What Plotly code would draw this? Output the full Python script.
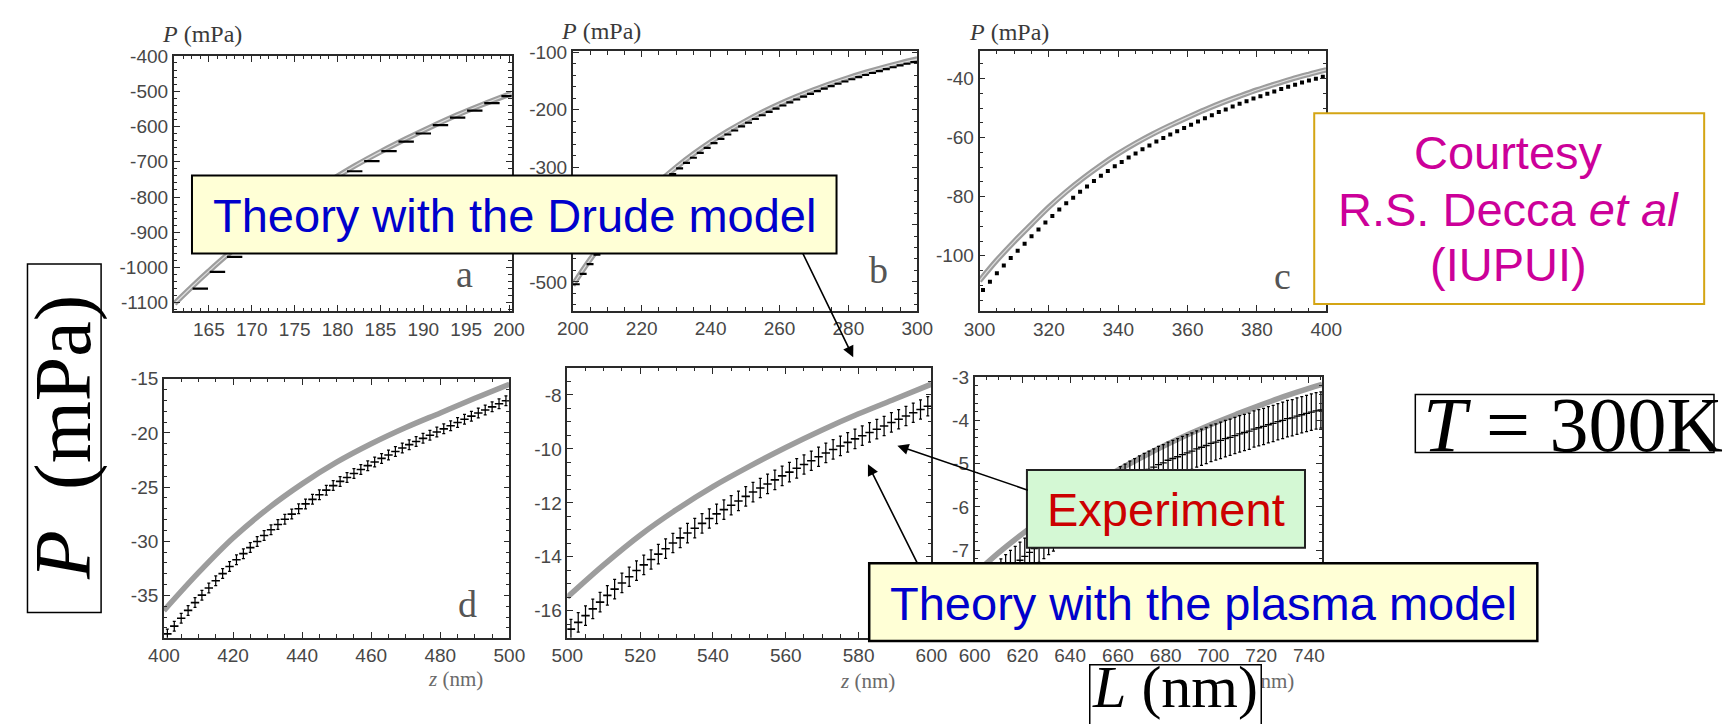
import plotly.graph_objects as go

W, H = 1729, 724

# ---------------- data ----------------
# panel a
theory_a_z = [161, 163, 165, 167, 170, 173, 176, 179, 182, 185, 188, 191, 194, 197, 200.3]
theory_a_p = [-1102, -1055, -1010, -967, -908, -853, -802, -756, -712, -672, -635, -600, -567, -537, -506]
data_a_z = list(range(164, 201, 2))
data_a_p = [-1060, -1012, -970, -932, -893, -856, -822, -789, -757, -727, -698, -670, -643, -620,
            -596, -575, -555, -534, -514]

# panel b
theory_b_z = list(range(200, 301, 5))
theory_b_p = [-505.7, -461.2, -421.5, -386.1, -354.4, -325.9, -300.2, -277.1, -256.2, -237.2, -220.0,
              -204.3, -190.0, -177.0, -165.0, -154.2, -144.1, -134.9, -126.4, -118.6, -111.5]
data_b_z = list(range(201, 300, 2))
data_b_p = [-504, -486, -469, -452.5, -437, -422, -407.5, -393.5, -380.5, -368, -355.5, -344, -333,
            -322, -312, -302, -292.5, -283.5, -275, -266.5, -258, -250.5, -243, -236, -229, -222.5,
            -216, -209.5, -203.5, -198, -192.5, -187, -182, -177, -172.3, -167.5, -163, -158.8,
            -154.6, -150.6, -146.7, -142.9, -139.3, -135.8, -132.4, -129, -125.8, -122.7, -119.7, -116.8]

# panel c
theory_c_z = list(range(300, 401, 5))
theory_c_p = [-108.5, -101.5, -95.2, -89.3, -83.5, -78.3, -73.6, -69.3, -65.4, -61.9, -58.7, -55.8,
              -53.1, -50.5, -48.1, -45.9, -43.8, -41.9, -40.1, -38.5, -37.0]
data_c_z = list(range(301, 400, 2))
data_c_p = [-111.6, -108.8, -105.9, -103.3, -100.8, -98.3, -95.9, -93.4, -91.1, -88.7, -86.5, -84.3,
            -82.2, -80.3, -78.3, -76.5, -74.7, -72.9, -71.3, -69.7, -68.2, -66.7, -65.3, -63.9, -62.6,
            -61.3, -60.1, -58.9, -57.8, -56.7, -55.6, -54.5, -53.4, -52.4, -51.3, -50.4, -49.4, -48.5,
            -47.6, -46.7, -45.9, -45.1, -44.3, -43.5, -42.7, -42.0, -41.3, -40.6, -40.0, -39.3]

# panel d
theory_d_z = list(range(400, 501, 10))
theory_d_p = [-36.4, -32.9, -29.7, -27.0, -24.7, -22.7, -21.0, -19.5, -18.15, -16.8, -15.5]
data_d_z = list(range(401, 500, 2))
data_d_p = [-38.55, -37.83, -37.11, -36.38, -35.66, -34.97, -34.31, -33.64, -32.98, -32.32, -31.71,
            -31.14, -30.58, -30.02, -29.46, -28.93, -28.45, -27.97, -27.49, -27.0, -26.55, -26.13,
            -25.71, -25.28, -24.86, -24.47, -24.11, -23.74, -23.38, -23.02, -22.68, -22.35, -22.03,
            -21.71, -21.39, -21.08, -20.79, -20.5, -20.21, -19.91, -19.62, -19.33, -19.04, -18.73,
            -18.45, -18.16, -17.88, -17.59, -17.31, -17.03]
err_d = 0.45

# panel e
theory_e_z = list(range(500, 601, 10))
theory_e_p = [-15.5, -14.3, -13.2, -12.25, -11.4, -10.65, -9.95, -9.3, -8.7, -8.15, -7.6]
data_e_z = list(range(501, 600, 2))
data_e_p = [-16.68, -16.43, -16.18, -15.93, -15.68, -15.43, -15.2, -14.97, -14.74, -14.51, -14.3,
            -14.1, -13.9, -13.7, -13.49, -13.3, -13.12, -12.94, -12.76, -12.58, -12.41, -12.25,
            -12.09, -11.93, -11.76, -11.6, -11.45, -11.3, -11.15, -11.0, -10.86, -10.72, -10.58,
            -10.44, -10.29, -10.15, -10.02, -9.89, -9.76, -9.63, -9.51, -9.39, -9.27, -9.15, -9.02,
            -8.9, -8.78, -8.66, -8.54, -8.42]
err_e = 0.36

# panel f
theory_f_z = [600, 610, 620, 630, 640, 650, 660, 670, 680, 690, 700, 710, 720, 730, 740, 745.5]
theory_f_p = [-7.55, -7.06, -6.62, -6.21, -5.83, -5.48, -5.15, -4.85, -4.57, -4.31, -4.07, -3.85,
              -3.64, -3.44, -3.26, -3.17]
data_f_z = list(range(601, 746, 2))
data_f_p = [-8.12, -8.02, -7.91, -7.81, -7.71, -7.62, -7.52, -7.42, -7.33, -7.23, -7.14, -7.05, -6.96,
            -6.86, -6.77, -6.68, -6.6, -6.51, -6.42, -6.34, -6.26, -6.18, -6.1, -6.02, -5.94, -5.86,
            -5.78, -5.71, -5.63, -5.56, -5.49, -5.43, -5.36, -5.3, -5.24, -5.18, -5.13, -5.08, -5.02,
            -4.98, -4.92, -4.88, -4.84, -4.79, -4.75, -4.71, -4.66, -4.62, -4.58, -4.53, -4.5, -4.46,
            -4.42, -4.39, -4.35, -4.31, -4.28, -4.25, -4.2, -4.17, -4.14, -4.1, -4.07, -4.03, -4.0,
            -3.96, -3.94, -3.9, -3.87, -3.84, -3.81, -3.78, -3.76]
err_f = 0.42

# tick values / labels (labels hidden under the callout boxes are left blank)
a_xticks = [165, 170, 175, 180, 185, 190, 195, 200]
a_xlabels = ["165", "170", "175", "180", "185", "190", "195", "200"]
a_yticks = [-1100, -1000, -900, -800, -700, -600, -500, -400]
a_ylabels = ["-1100", "-1000", "-900", "-800", "-700", "-600", "-500", "-400"]
b_xticks = [200, 220, 240, 260, 280, 300]
b_xlabels = ["200", "220", "240", "260", "280", "300"]
b_yticks = [-500, -400, -300, -200, -100]
b_ylabels = ["-500", "", "-300", "-200", "-100"]
c_xticks = [300, 320, 340, 360, 380, 400]
c_xlabels = ["300", "320", "340", "360", "380", "400"]
c_yticks = [-100, -80, -60, -40]
c_ylabels = ["-100", "-80", "-60", "-40"]
d_xticks = [400, 420, 440, 460, 480, 500]
d_xlabels = ["400", "420", "440", "460", "480", "500"]
d_yticks = [-35, -30, -25, -20, -15]
d_ylabels = ["-35", "-30", "-25", "-20", "-15"]
e_xticks = [500, 520, 540, 560, 580, 600]
e_xlabels = ["500", "520", "540", "560", "580", "600"]
e_yticks = [-16, -14, -12, -10, -8]
e_ylabels = ["-16", "-14", "-12", "-10", "-8"]
f_xticks = [600, 620, 640, 660, 680, 700, 720, 740]
f_xlabels = ["600", "620", "640", "660", "680", "700", "720", "740"]
f_yticks = [-9, -8, -7, -6, -5, -4, -3]
f_ylabels = ["", "", "-7", "-6", "-5", "-4", "-3"]

SANS = "Liberation Sans, Arial, sans-serif"
SERIF = "Liberation Serif, Times New Roman, serif"


def px(x):
    return x / W


def py(y):
    return 1 - y / H


panels = [
    dict(box=(160.7, 505.0, 46.7, 306.0), xr=[160.9, 200.3], yr=[-1123, -400],
         xt=a_xticks, xl=a_xlabels, yt=a_yticks, yl=a_ylabels, xm=1, ym=20,
         tz=theory_a_z, tp=theory_a_p, dz=data_a_z, dp=data_a_p, err=None,
         sym=dict(symbol="line-ew", size=11, line=dict(width=2.2, color="black")), band=True),
    dict(box=(567.3, 918.3, 42.0, 305.7), xr=[200, 300], yr=[-550, -98],
         xt=b_xticks, xl=b_xlabels, yt=b_yticks, yl=b_ylabels, xm=5, ym=20,
         tz=theory_b_z, tp=theory_b_p, dz=data_b_z, dp=data_b_p, err=None,
         sym=dict(symbol="line-ew", size=5, line=dict(width=2.2, color="black")), band=True),
    dict(box=(981.7, 1335.0, 41.7, 306.0), xr=[300, 400], yr=[-118.7, -30.6],
         xt=c_xticks, xl=c_xlabels, yt=c_yticks, yl=c_ylabels, xm=5, ym=5,
         tz=theory_c_z, tp=theory_c_p, dz=data_c_z, dp=data_c_p, err=None,
         sym=dict(symbol="square", size=4, color="black"), band=True),
    dict(box=(150.7, 502.7, 375.0, 638.3), xr=[400, 500], yr=[-38.9, -15],
         xt=d_xticks, xl=d_xlabels, yt=d_yticks, yl=d_ylabels, xm=5, ym=1,
         tz=theory_d_z, tp=theory_d_p, dz=data_d_z, dp=data_d_p, err=err_d,
         sym=dict(symbol="line-ew", size=6, line=dict(width=1.6, color="black")), band=False),
    dict(box=(561.7, 932.7, 364.0, 638.3), xr=[500, 600], yr=[-17, -7],
         xt=e_xticks, xl=e_xlabels, yt=e_yticks, yl=e_ylabels, xm=5, ym=0.5,
         tz=theory_e_z, tp=theory_e_p, dz=data_e_z, dp=data_e_p, err=err_e,
         sym=dict(symbol="line-ew", size=6, line=dict(width=1.6, color="black")), band=False),
    dict(box=(976.7, 1330.7, 373.3, 638.3), xr=[600, 745.5], yr=[-9.02, -3],
         xt=f_xticks, xl=f_xlabels, yt=f_yticks, yl=f_ylabels, xm=5, ym=0.2,
         tz=theory_f_z, tp=theory_f_p, dz=data_f_z, dp=data_f_p, err=err_f,
         sym=dict(symbol="line-ew", size=5, line=dict(width=1.3, color="black")), band=False),
]

fig = go.Figure()
layout = dict(width=W, height=H, margin=dict(l=0, r=0, t=0, b=0), showlegend=False,
              paper_bgcolor="white", plot_bgcolor="white")

frame = "#2a2a2a"
for i, p in enumerate(panels, start=1):
    xa = "x" if i == 1 else f"x{i}"
    ya = "y" if i == 1 else f"y{i}"
    x0, x1, y0, y1 = p["box"]
    common = dict(showline=True, linecolor=frame, linewidth=1.6, mirror="allticks",
                  ticks="inside", ticklen=6, tickwidth=1.2, tickcolor=frame,
                  showgrid=False, zeroline=False, tickmode="array",
                  tickfont=dict(family=SANS, size=19, color="#474747"))
    layout["xaxis" if i == 1 else f"xaxis{i}"] = dict(
        common, domain=[px(x0), px(x1)], range=p["xr"], anchor=ya,
        tickvals=p["xt"], ticktext=p["xl"],
        minor=dict(dtick=p["xm"], tick0=0, ticks="inside", ticklen=3.5, tickwidth=1, tickcolor=frame))
    layout["yaxis" if i == 1 else f"yaxis{i}"] = dict(
        common, domain=[py(y1), py(y0)], range=p["yr"], anchor=xa,
        tickvals=p["yt"], ticktext=p["yl"],
        minor=dict(dtick=p["ym"], tick0=0, ticks="inside", ticklen=3.5, tickwidth=1, tickcolor=frame))

    fig.add_trace(go.Scatter(x=p["tz"], y=p["tp"], mode="lines", line_shape="spline",
                             line=dict(color="#9d9d9d", width=5.5), xaxis=xa, yaxis=ya,
                             hoverinfo="skip"))
    if p["band"]:
        fig.add_trace(go.Scatter(x=p["tz"], y=p["tp"], mode="lines", line_shape="spline",
                                 line=dict(color="#dedede", width=1.2), xaxis=xa, yaxis=ya,
                                 hoverinfo="skip"))
    tr = dict(x=p["dz"], y=p["dp"], mode="markers", marker=p["sym"], xaxis=xa, yaxis=ya)
    if p["err"] is not None:
        tr["error_y"] = dict(type="constant", value=p["err"], color="black", thickness=1.25, width=1.5)
    fig.add_trace(go.Scatter(**tr))

shapes = []
annotations = []


def rect(x0, x1, y0, y1, fill, line, lw):
    shapes.append(dict(type="rect", xref="paper", yref="paper", x0=px(x0), x1=px(x1),
                       y0=py(y1), y1=py(y0), fillcolor=fill, line=dict(color=line, width=lw),
                       layer="above"))


def text(x, y, s, size, color, family=SANS, angle=0, xanchor="center"):
    annotations.append(dict(xref="paper", yref="paper", x=px(x), y=py(y), text=s, showarrow=False,
                            xanchor=xanchor, yanchor="middle", textangle=angle,
                            font=dict(family=family, size=size, color=color)))


def arrow(tipx, tipy, tailx, taily):
    annotations.append(dict(xref="paper", yref="paper", x=px(tipx), y=py(tipy), text="",
                            showarrow=True, ax=tailx - tipx, ay=taily - tipy, arrowhead=2,
                            arrowsize=1.4, arrowwidth=1.6, arrowcolor="black", standoff=0,
                            startstandoff=0))


# small axis labels
text(189, 24, "<i>P</i> (mPa)", 24, "#3a3a3a", SERIF)
text(596.5, 21, "<i>P</i> (mPa)", 24, "#3a3a3a", SERIF)
text(1011.7, 22, "<i>P</i> (mPa)", 24, "#3a3a3a", SERIF)
text(447.5, 680, "<i>z</i> (nm)", 21, "#6a6a6a", SERIF)
text(868, 682, "<i>z</i> (nm)", 21, "#6a6a6a", SERIF)
text(1274, 682, "<i>z</i> (nm)", 21, "#6a6a6a", SERIF)

# panel letters
text(457, 268, "a", 38, "#555555", SERIF)
text(879, 264, "b", 38, "#555555", SERIF)
text(1290, 270, "c", 38, "#555555", SERIF)
text(460, 604, "d", 38, "#555555", SERIF)

# boxes
rect(179.3, 836, 168.3, 247.7, "#ffffd6", "black", 2)
rect(1030, 1313.3, 467.7, 546.7, "#d4f8d4", "#222222", 2)
rect(869.3, 1550, 562.7, 641.7, "#ffffd6", "black", 2.5)
rect(1322.7, 1720, 105, 299, "white", "#d4a514", 2)
rect(1425.7, 1730, 391, 450, "white", "black", 1.5)
rect(11.7, 86.7, 258.3, 612.7, "white", "black", 1.5)

text(507.6, 209, "Theory with the Drude model", 47, "#0000cc")
text(1171.7, 508, "Experiment", 47, "#cc0000")
text(1209.5, 604, "Theory with the plasma model", 47, "#0000cc")
text(1521, 145, "Courtesy", 47, "#cc0099")
text(1521, 203, "R.S. Decca <i>et al</i>", 47, "#cc0099")
text(1521, 259, "(IUPUI)", 47, "#cc0099")
text(1586, 421, "<i>T</i> = 300K", 78, "black", SERIF)
text(49, 435, "<i>P</i>\u00a0\u00a0(mPa)", 80, "black", SERIF, angle=-90)

# L (nm) box drawn as annotation so it covers the small z (nm) label
annotations.append(dict(xref="paper", yref="paper", x=px(1181.7), y=py(665), text="\u00a0",
                        showarrow=False, xanchor="center", yanchor="top", width=170, height=90,
                        bgcolor="white", bordercolor="black", borderwidth=1.5, borderpad=0))
text(1180.5, 688, "<i>L</i> (nm)", 60, "black", SERIF)

# arrows
arrow(853, 353, 802, 248)
arrow(898, 443, 1030, 488)
arrow(868, 462, 918, 562)

layout["shapes"] = shapes
layout["annotations"] = annotations
fig.update_layout(**layout)
fig.write_html("out.html")
